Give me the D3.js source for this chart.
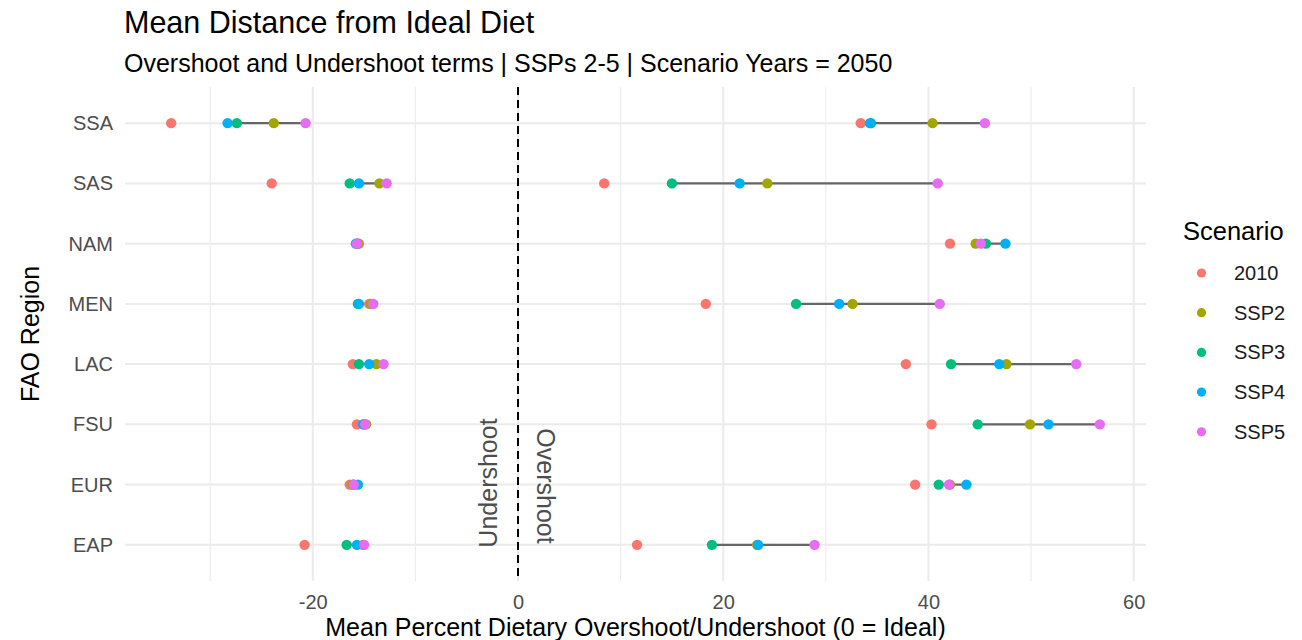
<!DOCTYPE html>
<html>
<head>
<meta charset="utf-8">
<script src="https://cdn.jsdelivr.net/npm/d3@7"></script>
<style>
  body { margin: 0; background: #fff; }
  text { font-family: "Liberation Sans", Arial, sans-serif; }
</style>
</head>
<body>
<div id="chart"></div>
<script>
// data
var regions = ["SSA", "SAS", "NAM", "MEN", "LAC", "FSU", "EUR", "EAP"];
var scenarios = ["2010", "SSP2", "SSP3", "SSP4", "SSP5"];
var colors = ["#F8766D", "#A3A500", "#00BF7D", "#00B0F6", "#E76BF3"];

// undershoot terms, same order as regions
var under2010 = [-33.8, -24.0, -15.5, -14.5, -16.1, -15.7, -16.4, -20.8];
var underSSP2 = [-23.8, -13.5, -15.6, -14.3, -13.8, -14.8, -16.1, -15.1];
var underSSP3 = [-27.4, -16.4, -15.7, -15.6, -15.5, -15.0, -16.0, -16.7];
var underSSP4 = [-28.3, -15.5, -15.8, -15.5, -14.5, -15.1, -15.6, -15.7];
var underSSP5 = [-20.7, -12.8, -15.7, -14.1, -13.1, -14.9, -16.0, -15.0];

// overshoot terms
var over2010 = [33.4, 8.4, 42.1, 18.3, 37.8, 40.3, 38.7, 11.6];
var overSSP2 = [40.4, 24.3, 44.6, 32.6, 47.6, 49.9, 42.1, 23.3];
var overSSP3 = [34.4, 15.0, 45.6, 27.1, 42.2, 44.8, 41.0, 18.9];
var overSSP4 = [34.3, 21.6, 47.5, 31.3, 46.9, 51.7, 43.7, 23.4];
var overSSP5 = [45.5, 40.9, 45.1, 41.1, 54.4, 56.7, 42.0, 28.9];

var xTicks = [-20, 0, 20, 40, 60];
var xMinor = [-30, -10, 10, 30, 50];

var underAll = [under2010, underSSP2, underSSP3, underSSP4, underSSP5];
var overAll = [over2010, overSSP2, overSSP3, overSSP4, overSSP5];

var W = 1302, H = 640;
var m = {top: 87, left: 125, right: 1146, bottom: 581};

var svg = d3.select("#chart")
            .append("svg")
            .attr("width", W)
            .attr("height", H);

// scales
var xScale = d3.scaleLinear()
               .domain([-38.3, 61.2])
               .range([m.left, m.right]);

var yScale = d3.scalePoint()
               .domain(regions)
               .range([m.top, m.bottom])
               .padding(0.6);

var colorScale = d3.scaleOrdinal()
                   .domain(scenarios)
                   .range(colors);

// build point records
var points = [];
scenarios.forEach(function(s, i) {
  regions.forEach(function(r, j) {
    points.push({region: r, scenario: s, value: underAll[i][j]});
    points.push({region: r, scenario: s, value: overAll[i][j]});
  });
});

// ranges across SSPs (2010 not connected)
var segs = [];
regions.forEach(function(r, j) {
  var u = underAll.slice(1).map(function(a) { return a[j]; });
  var o = overAll.slice(1).map(function(a) { return a[j]; });
  segs.push({region: r, lo: d3.min(u), hi: d3.max(u)});
  segs.push({region: r, lo: d3.min(o), hi: d3.max(o)});
});

// grid
var grid = svg.append("g");
grid.selectAll(".minor")
    .data(xMinor)
    .enter()
    .append("line")
    .attr("x1", (d) => xScale(d))
    .attr("x2", (d) => xScale(d))
    .attr("y1", m.top)
    .attr("y2", m.bottom)
    .attr("stroke", "#ebebeb")
    .attr("stroke-width", 1.1);

grid.selectAll(".major")
    .data(xTicks)
    .enter()
    .append("line")
    .attr("x1", (d) => xScale(d))
    .attr("x2", (d) => xScale(d))
    .attr("y1", m.top)
    .attr("y2", m.bottom)
    .attr("stroke", "#ebebeb")
    .attr("stroke-width", 2);

grid.selectAll(".hline")
    .data(regions)
    .enter()
    .append("line")
    .attr("x1", m.left)
    .attr("x2", m.right)
    .attr("y1", (d) => yScale(d))
    .attr("y2", (d) => yScale(d))
    .attr("stroke", "#ebebeb")
    .attr("stroke-width", 2);

// zero line
svg.append("line")
   .attr("x1", xScale(0))
   .attr("x2", xScale(0))
   .attr("y1", m.top)
   .attr("y2", m.bottom)
   .attr("stroke", "#000")
   .attr("stroke-width", 2)
   .attr("stroke-dasharray", "8,5");

// annotations
svg.append("text")
   .attr("transform", "translate(" + (xScale(0) - 21) + ",483) rotate(-90)")
   .attr("text-anchor", "middle")
   .style("font-size", "25px")
   .style("fill", "#4d4d4d")
   .text("Undershoot");

svg.append("text")
   .attr("transform", "translate(" + (xScale(0) + 19) + ",486) rotate(90)")
   .attr("text-anchor", "middle")
   .style("font-size", "25px")
   .style("fill", "#4d4d4d")
   .text("Overshoot");

// segments
svg.append("g")
   .selectAll("line")
   .data(segs)
   .enter()
   .append("line")
   .attr("x1", (d) => xScale(d.lo))
   .attr("x2", (d) => xScale(d.hi))
   .attr("y1", (d) => yScale(d.region))
   .attr("y2", (d) => yScale(d.region))
   .attr("stroke", "#666")
   .attr("stroke-width", 2.2);

// points
svg.append("g")
   .selectAll("circle")
   .data(points)
   .enter()
   .append("circle")
   .attr("cx", (d) => xScale(d.value))
   .attr("cy", (d) => yScale(d.region))
   .attr("r", 5.2)
   .attr("fill", (d) => colorScale(d.scenario));

// axes (no lines, just labels)
var xAxis = d3.axisBottom(xScale)
              .tickValues(xTicks)
              .tickFormat((d) => String(d))
              .tickSize(0)
              .tickPadding(14);

var gx = svg.append("g")
            .attr("transform", "translate(0," + m.bottom + ")")
            .call(xAxis);
gx.select(".domain").remove();
gx.selectAll("text")
  .style("font-size", "20px")
  .style("fill", "#4d4d4d")
  .style("font-family", "'Liberation Sans', Arial, sans-serif");

var yAxis = d3.axisLeft(yScale)
              .tickSize(0)
              .tickPadding(12);

var gy = svg.append("g")
            .attr("transform", "translate(" + m.left + ",0)")
            .call(yAxis);
gy.select(".domain").remove();
gy.selectAll("text")
  .style("font-size", "20px")
  .style("fill", "#4d4d4d")
  .style("font-family", "'Liberation Sans', Arial, sans-serif");

// titles
svg.append("text")
   .attr("x", 124)
   .attr("y", 33)
   .style("font-size", "30.5px")
   .text("Mean Distance from Ideal Diet");

svg.append("text")
   .attr("x", 124)
   .attr("y", 72)
   .style("font-size", "25px")
   .text("Overshoot and Undershoot terms | SSPs 2-5 | Scenario Years = 2050");

svg.append("text")
   .attr("x", (m.left + m.right) / 2)
   .attr("y", 636)
   .attr("text-anchor", "middle")
   .style("font-size", "25px")
   .text("Mean Percent Dietary Overshoot/Undershoot (0 = Ideal)");

svg.append("text")
   .attr("transform", "translate(39," + ((m.top + m.bottom) / 2) + ") rotate(-90)")
   .attr("text-anchor", "middle")
   .style("font-size", "25px")
   .text("FAO Region");

// legend
var legend = svg.append("g")
                .attr("transform", "translate(1183,0)");

legend.append("text")
      .attr("x", 0)
      .attr("y", 240)
      .style("font-size", "25.5px")
      .text("Scenario");

var items = legend.selectAll(".item")
                  .data(scenarios)
                  .enter()
                  .append("g")
                  .attr("transform", (d, i) => "translate(0," + (273 + i * 39.7) + ")");

items.append("circle")
     .attr("cx", 18.5)
     .attr("cy", 0)
     .attr("r", 4.6)
     .attr("fill", (d) => colorScale(d));

items.append("text")
     .attr("x", 51)
     .attr("y", 7)
     .style("font-size", "20px")
     .style("fill", "#1a1a1a")
     .text((d) => d);
</script>
</body>
</html>
